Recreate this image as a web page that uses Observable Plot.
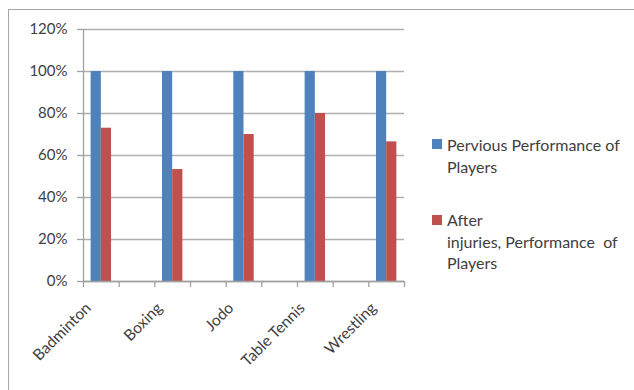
<!DOCTYPE html>
<html>
<head>
<meta charset="utf-8">
<script src="https://cdn.jsdelivr.net/npm/d3@7"></script>
<script src="https://cdn.jsdelivr.net/npm/@observablehq/plot@0.6"></script>
<style>
  html, body { margin: 0; padding: 0; background: #fff; width: 634px; height: 390px; overflow: hidden; }
  #wrap { position: relative; width: 634px; height: 390px; }
  #border { position: absolute; left: 8px; top: 9px; width: 700px; height: 500px; border: 1.5px solid #a6a6a6; box-sizing: border-box; }
  #chart { position: absolute; left: 0; top: 0; }
  .leg { position: absolute; font-family: Lato, sans-serif; font-size: 16px; color: #404040; line-height: 21.5px; }
  .sw { position: absolute; width: 10px; height: 10px; }
</style>
</head>
<body>
<div id="wrap">
  <div id="border"></div>
  <div id="chart"></div>
</div>
<script>
const categories = ["Badminton", "Boxing", "Jodo", "Table Tennis", "Wrestling"];
const previousPerformance = [1.00, 1.00, 1.00, 1.00, 1.00];
const afterInjuries = [0.73, 0.533, 0.70, 0.80, 0.665];
const yTicks = [0, 0.2, 0.4, 0.6, 0.8, 1.0, 1.2];
const seriesNames = ["Pervious Performance of Players", "After injuries, Performance  of Players"];
const seriesColors = ["#4F81BD", "#C0504D"];

// Excel-like axis: empty category slots between named categories
const xDomain = [];
categories.forEach((c, i) => { xDomain.push(c); if (i < categories.length - 1) xDomain.push("gap" + i); });
const rows = categories.map((c, i) => ({cat: c, prev: previousPerformance[i], after: afterInjuries[i]}));

const W = 634, H = 390, mL = 83, mR = 230, mT = 29, mB = 109;
const half = (W - mL - mR) / xDomain.length / 2;
const barW = 10.2;
const axisColor = "#a0a0a0";

const chart = Plot.plot({
  width: W, height: H,
  marginLeft: mL, marginRight: mR, marginTop: mT, marginBottom: mB,
  style: {fontFamily: "Lato, sans-serif", fontSize: "15px", color: "#404040", background: "transparent", overflow: "visible"},
  x: {domain: xDomain, padding: 0, round: false, axis: null, label: null},
  y: {domain: [0, 1.2], axis: null, label: null},
  marks: [
    Plot.gridY(yTicks, {stroke: "#b0b0b0", strokeOpacity: 1, strokeWidth: 1.3}),
    Plot.barY(rows, {x: "cat", y: "prev", fill: seriesColors[0], insetLeft: half - barW, insetRight: half}),
    Plot.barY(rows, {x: "cat", y: "after", fill: seriesColors[1], insetLeft: half, insetRight: half - barW}),
    Plot.ruleY([0], {stroke: axisColor, strokeWidth: 1.3}),
    Plot.ruleX([xDomain[0]], {x: d => d, y1: 0, y2: 1.2, dx: -half, stroke: axisColor, strokeWidth: 1.3}),
    Plot.ruleX(xDomain, {x: d => d, y1: 0, y2: 0, insetBottom: -6, dx: -half, stroke: axisColor, strokeWidth: 1.3}),
    Plot.ruleX([xDomain[xDomain.length - 1]], {x: d => d, y1: 0, y2: 0, insetBottom: -6, dx: half, stroke: axisColor, strokeWidth: 1.3}),
    Plot.axisY(yTicks, {tickSize: 6, tickPadding: 10, tickFormat: d3.format(".0%"), stroke: axisColor, strokeWidth: 1.3, fill: "#404040", label: null}),
    Plot.axisX({tickSize: 0, tickPadding: 12, tickRotate: -45, dx: -13, dy: 12, tickFormat: d => d.startsWith("gap") ? "" : d, fill: "#404040", fontSize: "15.5px", label: null})
  ]
});
document.getElementById("chart").appendChild(chart);

// legend
const legendItems = [
  {lines: ["Pervious Performance of", "Players"], top: 134, sw: 139},
  {lines: ["After", "injuries, Performance  of", "Players"], top: 209, sw: 215}
];
const wrap = document.getElementById("wrap");
legendItems.forEach((item, i) => {
  const sw = document.createElement("div");
  sw.className = "sw";
  sw.style.left = "432px"; sw.style.top = item.sw + "px";
  sw.style.background = seriesColors[i];
  wrap.appendChild(sw);
  const t = document.createElement("div");
  t.className = "leg";
  t.style.left = "447px"; t.style.top = item.top + "px";
  t.style.whiteSpace = "pre";
  t.textContent = item.lines.join("\n");
  wrap.appendChild(t);
});
</script>
</body>
</html>
